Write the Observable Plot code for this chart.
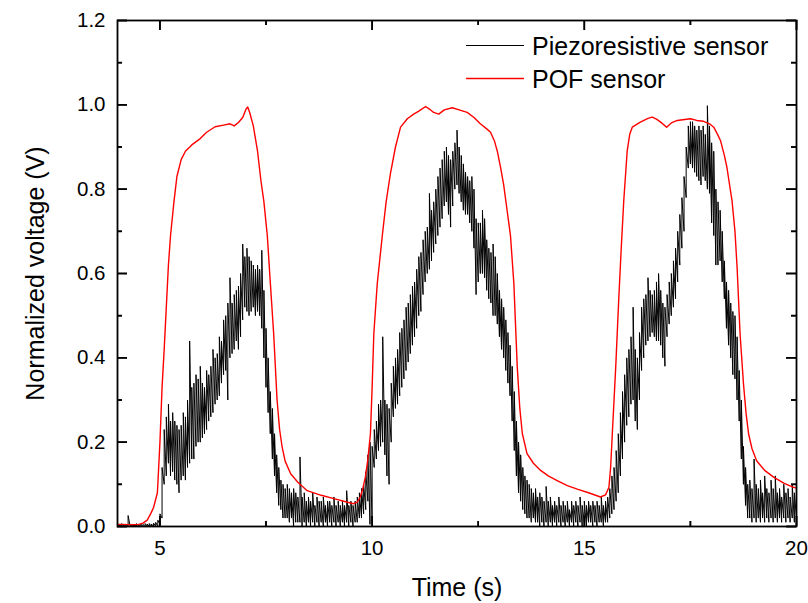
<!DOCTYPE html>
<html><head><meta charset="utf-8">
<script src="https://cdn.jsdelivr.net/npm/d3@7"></script>
<script src="https://cdn.jsdelivr.net/npm/@observablehq/plot@0.6"></script>
<style>body{margin:0;background:#fff} #chart{width:808px;height:603px}</style>
</head><body><div id="chart"></div>
<script>
// ---- data ----
const seriesNames = ["Piezoresistive sensor", "POF sensor"];
const seriesColors = ["#000000", "#ff0000"];
const xDomain = [4, 20];
const yDomain = [0, 1.2];
const xTickLabels = [5, 10, 15, 20];
const xMinorTicks = [7.5, 12.5, 17.5];
const yTickLabels = [0, 0.2, 0.4, 0.6, 0.8, 1.0, 1.2];
const yMinorTicks = [0.1, 0.3, 0.5, 0.7, 0.9, 1.1];

// Piezoresistive sensor (dense, noisy signal): per 0.05 s bin from 4 s to 20 s,
// the [min, max] of the trace
const piezoStart = 4, piezoStep = 0.05;
const piezoMinMax = [
  // 4.00 - 4.95
  [0,0.006],[0,0.005],[0,0.007],[0,0.005],[0,0.006],[0,0.026],[0,0.005],[0,0.006],[0,0.005],[0,0.007],
  [0,0.005],[0,0.006],[0,0.005],[0,0.007],[0,0.006],[0,0.007],[0,0.006],[0,0.008],[0,0.01],[0,0.015],
  // 5
  [0.005,0.03],[0.02,0.14],[0.10,0.23],[0.12,0.26],[0.15,0.29],[0.12,0.25],[0.13,0.27],[0.11,0.25],[0.10,0.24],[0.08,0.23],
  [0.11,0.24],[0.12,0.27],[0.11,0.26],[0.14,0.30],[0.15,0.44],[0.16,0.33],[0.16,0.34],[0.19,0.36],[0.20,0.35],[0.20,0.38],
  // 6
  [0.21,0.34],[0.22,0.33],[0.23,0.37],[0.25,0.36],[0.26,0.38],[0.27,0.42],[0.29,0.40],[0.30,0.41],[0.31,0.45],[0.34,0.44],
  [0.36,0.49],[0.37,0.50],[0.30,0.53],[0.40,0.59],[0.41,0.53],[0.42,0.55],[0.44,0.56],[0.42,0.57],[0.45,0.60],[0.49,0.67],
  // 7
  [0.52,0.64],[0.51,0.66],[0.50,0.64],[0.51,0.63],[0.52,0.62],[0.50,0.61],[0.51,0.62],[0.50,0.61],[0.47,0.655],[0.40,0.56],
  [0.33,0.47],[0.27,0.40],[0.22,0.32],[0.16,0.28],[0.12,0.22],[0.08,0.17],[0.05,0.14],[0.04,0.11],[0.02,0.10],[0.02,0.09],
  // 8
  [0.02,0.10],[0.01,0.09],[0.02,0.08],[0.00,0.09],[0.01,0.08],[0.01,0.07],[0.01,0.165],[0.00,0.07],[0.01,0.08],[0.00,0.06],
  [0.01,0.07],[0.00,0.06],[0.01,0.08],[0.00,0.05],[0.01,0.07],[0.00,0.06],[0.01,0.06],[0.00,0.07],[0.01,0.05],[0.00,0.06],
  // 9
  [0.01,0.06],[0.00,0.05],[0.01,0.07],[0.00,0.05],[0.01,0.06],[0.00,0.05],[0.01,0.06],[0.00,0.05],[0.01,0.085],[0.00,0.05],
  [0.01,0.06],[0.00,0.05],[0.01,0.06],[0.01,0.07],[0.02,0.08],[0.02,0.09],[0.03,0.10],[0.04,0.13],[0.06,0.17],[0.005,0.20],
  // 10
  [0.005,0.19],[0.14,0.23],[0.16,0.25],[0.18,0.29],[0.19,0.30],[0.20,0.45],[0.17,0.30],[0.12,0.29],[0.10,0.28],[0.20,0.34],
  [0.26,0.38],[0.28,0.40],[0.29,0.42],[0.31,0.46],[0.33,0.47],[0.35,0.49],[0.37,0.52],[0.39,0.53],[0.41,0.55],[0.43,0.57],
  // 11
  [0.45,0.58],[0.47,0.61],[0.50,0.64],[0.51,0.65],[0.55,0.68],[0.58,0.70],[0.60,0.71],[0.61,0.79],[0.63,0.75],[0.65,0.77],
  [0.67,0.80],[0.69,0.83],[0.71,0.85],[0.73,0.87],[0.76,0.89],[0.77,0.90],[0.74,0.88],[0.71,0.87],[0.76,0.89],[0.80,0.91],
  // 12
  [0.81,0.94],[0.79,0.90],[0.77,0.88],[0.75,0.86],[0.74,0.84],[0.74,0.83],[0.72,0.82],[0.70,0.83],[0.66,0.80],[0.55,0.73],
  [0.58,0.72],[0.60,0.72],[0.60,0.75],[0.59,0.73],[0.56,0.68],[0.54,0.66],[0.53,0.65],[0.50,0.67],[0.50,0.64],[0.48,0.60],
  // 13
  [0.45,0.56],[0.42,0.54],[0.40,0.52],[0.37,0.49],[0.34,0.46],[0.31,0.43],[0.25,0.38],[0.18,0.32],[0.12,0.25],[0.08,0.20],
  [0.06,0.17],[0.04,0.14],[0.03,0.12],[0.02,0.11],[0.02,0.10],[0.01,0.09],[0.02,0.08],[0.01,0.09],[0.01,0.07],[0.00,0.08],
  // 14
  [0.01,0.07],[0.00,0.06],[0.01,0.095],[0.00,0.06],[0.01,0.07],[0.00,0.05],[0.01,0.06],[0.00,0.05],[0.01,0.07],[0.00,0.05],
  [0.01,0.06],[0.00,0.05],[0.01,0.06],[0.00,0.04],[0.01,0.06],[0.00,0.05],[0.01,0.06],[0.00,0.05],[0.01,0.07],[0.00,0.05],
  // 15
  [0.01,0.06],[0.00,0.05],[0.01,0.06],[0.01,0.05],[0.00,0.06],[0.01,0.05],[0.00,0.06],[0.01,0.05],[0.01,0.07],[0.00,0.05],
  [0.01,0.06],[0.01,0.07],[0.02,0.09],[0.03,0.12],[0.04,0.14],[0.06,0.18],[0.08,0.22],[0.12,0.27],[0.16,0.32],[0.20,0.36],
  // 16
  [0.24,0.40],[0.26,0.42],[0.29,0.45],[0.30,0.52],[0.25,0.42],[0.23,0.40],[0.30,0.46],[0.37,0.52],[0.40,0.54],[0.43,0.55],
  [0.44,0.59],[0.45,0.56],[0.46,0.55],[0.45,0.56],[0.44,0.58],[0.44,0.60],[0.43,0.56],[0.40,0.53],[0.38,0.52],[0.45,0.55],
  // 17
  [0.48,0.58],[0.50,0.60],[0.52,0.63],[0.54,0.66],[0.58,0.70],[0.62,0.74],[0.66,0.78],[0.70,0.83],[0.78,0.90],[0.85,0.95],
  [0.86,0.96],[0.85,0.96],[0.84,0.95],[0.83,0.94],[0.82,0.95],[0.81,0.94],[0.83,0.95],[0.82,0.93],[0.80,0.998],[0.79,0.95],
  // 18
  [0.72,0.91],[0.69,0.89],[0.62,0.80],[0.62,0.77],[0.63,0.75],[0.58,0.70],[0.54,0.63],[0.47,0.58],[0.43,0.56],[0.40,0.53],
  [0.36,0.51],[0.35,0.50],[0.30,0.45],[0.25,0.37],[0.16,0.30],[0.10,0.19],[0.05,0.14],[0.02,0.10],[0.02,0.11],[0.01,0.09],
  // 19
  [0.02,0.16],[0.01,0.10],[0.02,0.09],[0.01,0.11],[0.02,0.08],[0.01,0.12],[0.02,0.09],[0.01,0.08],[0.02,0.11],[0.01,0.09],
  [0.02,0.12],[0.01,0.08],[0.02,0.09],[0.01,0.07],[0.02,0.10],[0.01,0.08],[0.02,0.09],[0.01,0.07],[0.02,0.10],[0.01,0.08],
  // 20
  [0.02,0.06]
];

// POF sensor: time (s) and normalized voltage (V)
const pofTime = [4.0,4.3,4.5,4.6,4.7,4.78,4.85,4.94,5.0,5.05,5.1,5.2,5.25,5.33,5.4,5.5,5.6,5.75,5.95,6.1,6.3,6.5,6.65,6.75,6.85,6.95,7.03,7.07,7.12,7.2,7.3,7.38,7.45,7.53,7.6,7.68,7.76,7.82,7.88,7.95,8.08,8.25,8.47,8.8,9.1,9.4,9.56,9.65,9.72,9.78,9.84,9.9,9.96,10.0,10.04,10.12,10.24,10.33,10.43,10.55,10.67,10.83,10.98,11.1,11.26,11.35,11.45,11.57,11.7,11.89,12.05,12.24,12.4,12.55,12.7,12.79,12.88,12.95,13.03,13.1,13.18,13.26,13.34,13.42,13.48,13.54,13.65,13.8,13.97,14.15,14.36,14.6,14.85,15.1,15.38,15.5,15.58,15.62,15.66,15.74,15.81,15.87,15.93,16.01,16.07,16.13,16.32,16.5,16.6,16.7,16.8,16.94,17.05,17.19,17.5,17.65,17.81,17.95,18.05,18.14,18.21,18.3,18.36,18.48,18.55,18.6,18.67,18.75,18.81,18.87,18.95,19.06,19.25,19.46,19.7,19.93,20.0];
const pofValues = [0.005,0.004,0.005,0.008,0.015,0.03,0.045,0.08,0.2,0.33,0.42,0.62,0.69,0.77,0.83,0.87,0.89,0.905,0.92,0.935,0.948,0.952,0.955,0.95,0.958,0.97,0.99,0.995,0.98,0.95,0.89,0.82,0.77,0.69,0.58,0.457,0.30,0.23,0.188,0.155,0.125,0.105,0.085,0.074,0.066,0.058,0.054,0.058,0.07,0.09,0.117,0.16,0.22,0.33,0.457,0.575,0.69,0.77,0.836,0.9,0.947,0.967,0.978,0.985,0.996,0.99,0.982,0.978,0.988,0.993,0.988,0.982,0.97,0.955,0.943,0.935,0.915,0.89,0.85,0.81,0.75,0.69,0.576,0.378,0.28,0.22,0.173,0.15,0.133,0.12,0.109,0.097,0.088,0.08,0.07,0.075,0.093,0.14,0.22,0.378,0.536,0.66,0.773,0.89,0.93,0.947,0.959,0.968,0.971,0.966,0.959,0.947,0.957,0.963,0.967,0.963,0.961,0.955,0.947,0.93,0.915,0.88,0.852,0.773,0.70,0.615,0.457,0.339,0.27,0.22,0.185,0.156,0.133,0.117,0.103,0.093,0.091];

// ---- build tables ----
// the noisy trace visits each bin's min then max, like the dense recorded signal
const piezo = piezoMinMax.flatMap(([lo, hi], i) => {
  const t = piezoStart + i * piezoStep;
  return [{t, v: lo}, {t, v: hi}];
});
const pof = pofTime.map((t, i) => ({t, v: pofValues[i]}));

// ---- layout ----
const W = 808, H = 603, ML = 117, MR = 12, MT = 20, MB = 77;
const innerW = W - ML - MR, innerH = H - MT - MB;
const FONT = "'Liberation Sans', Arial, sans-serif";
const MAJ = 10, MIN = 5; // inward tick lengths (px)
const tk = {stroke: "black", strokeWidth: 1.6};

const plot = Plot.plot({
  width: W, height: H,
  marginLeft: ML, marginRight: MR, marginTop: MT, marginBottom: MB,
  style: {fontFamily: FONT, background: "white", color: "black", overflow: "visible"},
  x: {domain: xDomain},
  y: {domain: yDomain},
  marks: [
    Plot.axisX(xTickLabels, {tickSize: 0, tickPadding: 14, fontSize: 20.5, label: null, tickFormat: d => String(d)}),
    Plot.axisY(yTickLabels, {tickSize: 0, tickPadding: 12, fontSize: 20.5, label: null, tickFormat: d => d.toFixed(1)}),
    Plot.line(piezo, {x: "t", y: "v", stroke: seriesColors[0], strokeWidth: 1}),
    Plot.line(pof, {x: "t", y: "v", stroke: seriesColors[1], strokeWidth: 1.4}),
    Plot.frame({stroke: "black", strokeWidth: 1.8}),
    Plot.text(["Time (s)"], {frameAnchor: "bottom", dy: 61, fontSize: 25, fill: "black", textAnchor: "middle", lineAnchor: "middle"}),
    Plot.text(["Normalized voltage (V)"], {frameAnchor: "left", dx: -82, rotate: -90, fontSize: 25, fill: "black", textAnchor: "middle", lineAnchor: "middle"}),
    // inward ticks on all four sides
    Plot.tickX(xTickLabels, {x: d => d, insetTop: innerH - MAJ, ...tk}),
    Plot.tickX(xTickLabels, {x: d => d, insetBottom: innerH - MAJ, ...tk}),
    Plot.tickX(xMinorTicks, {x: d => d, insetTop: innerH - MIN, ...tk}),
    Plot.tickX(xMinorTicks, {x: d => d, insetBottom: innerH - MIN, ...tk}),
    Plot.tickY(yTickLabels, {y: d => d, insetRight: innerW - MAJ, ...tk}),
    Plot.tickY(yTickLabels, {y: d => d, insetLeft: innerW - MAJ, ...tk}),
    Plot.tickY(yMinorTicks, {y: d => d, insetRight: innerW - MIN, ...tk}),
    Plot.tickY(yMinorTicks, {y: d => d, insetLeft: innerW - MIN, ...tk})
  ]
});

const svg = d3.select(plot);

// ---- ticks again with Plot's own scales (same positions, on top of everything) ----
const sx = plot.scale("x"), sy = plot.scale("y");
const X = v => sx.apply(v), Y = v => sy.apply(v);
const x0 = X(xDomain[0]), x1 = X(xDomain[1]), y0 = Y(yDomain[0]), y1 = Y(yDomain[1]);
const tg = svg.append("g").attr("stroke", "black").attr("stroke-width", 1.6);
const seg = (a, b, c, d) => tg.append("line").attr("x1", a).attr("y1", b).attr("x2", c).attr("y2", d).attr("stroke", "black");
[[xTickLabels, MAJ], [xMinorTicks, MIN]].forEach(([vals, len]) => vals.forEach(v => {
  const px = X(v) + 0.5;
  seg(px, y0, px, y0 - len);
  seg(px, y1, px, y1 + len);
}));
[[yTickLabels, MAJ], [yMinorTicks, MIN]].forEach(([vals, len]) => vals.forEach(v => {
  const py = Y(v) + 0.5;
  seg(x0, py, x0 + len, py);
  seg(x1, py, x1 - len, py);
}));

// ---- legend (inside top-right of frame) ----
const lx = ML + innerW - 330;
const rows = [MT + 25.5, MT + 58.5];
const lg = svg.append("g").attr("font-family", FONT).attr("font-size", 25).attr("text-anchor", "start");
seriesNames.forEach((name, i) => {
  lg.append("line").attr("x1", lx).attr("x2", lx + 58).attr("y1", rows[i]).attr("y2", rows[i])
    .attr("stroke", seriesColors[i]).attr("stroke-width", i ? 1.4 : 1);
  lg.append("text").attr("x", lx + 66).attr("y", rows[i] + 9).attr("fill", "black")
    .attr("text-anchor", "start").text(name);
});

document.getElementById("chart").appendChild(plot);
</script>
</body></html>
